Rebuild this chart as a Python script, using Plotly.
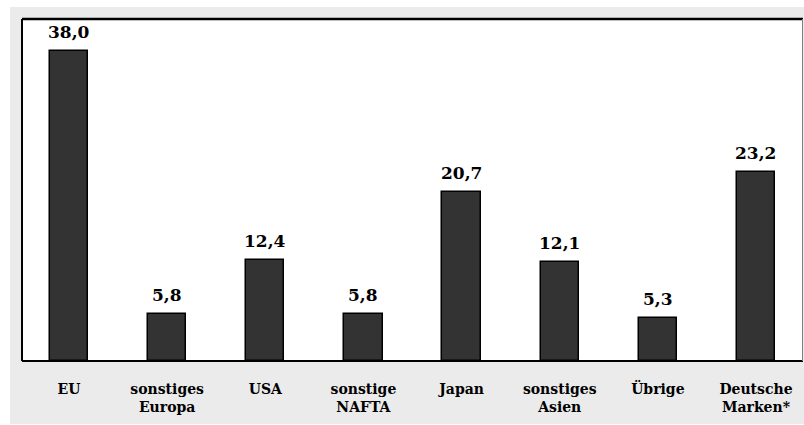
import plotly.graph_objects as go

categories = ["EU", "sonstiges<br>Europa", "USA", "sonstige<br>NAFTA", "Japan",
              "sonstiges<br>Asien", "Übrige", "Deutsche<br>Marken*"]
values = [38.0, 5.8, 12.4, 5.8, 20.7, 12.1, 5.3, 23.2]
value_labels = [f"{v:.1f}".replace(".", ",") for v in values]

W, H = 804, 425
ml, mr, mt, mb = 22, 1, 19, 64
pw, ph = W - ml - mr, H - mt - mb

def px_x(x):
    return (x - ml) / pw

def px_y(y):
    return (H - mb - y) / ph

font_family = "DejaVu Serif"
idx = list(range(len(categories)))

fig = go.Figure(go.Bar(
    x=idx, y=values, width=0.39,
    marker=dict(color="#333333", line=dict(color="#000000", width=1.5)),
))

for i, (v, t) in enumerate(zip(values, value_labels)):
    fig.add_annotation(x=i, y=v, text=t, showarrow=False,
                       yanchor="bottom", yshift=7,
                       font=dict(family=font_family, size=17, color="#000000", weight="bold"))

shapes = [
    # white strips outside the grey frame
    dict(type="rect", xref="paper", yref="paper", x0=px_x(0), x1=px_x(10),
         y0=px_y(H), y1=px_y(0), fillcolor="white", line=dict(width=0), layer="below"),
    dict(type="rect", xref="paper", yref="paper", x0=px_x(0), x1=px_x(W),
         y0=px_y(7), y1=px_y(0), fillcolor="white", line=dict(width=0), layer="below"),
    dict(type="rect", xref="paper", yref="paper", x0=px_x(0), x1=px_x(W),
         y0=px_y(H), y1=px_y(424), fillcolor="white", line=dict(width=0), layer="below"),
    # plot frame
    dict(type="line", xref="paper", yref="paper", x0=0, x1=1, y0=1, y1=1,
         line=dict(color="#000000", width=2.5)),
    dict(type="line", xref="paper", yref="paper", x0=0, x1=0, y0=0, y1=1,
         line=dict(color="#000000", width=2)),
    dict(type="line", xref="paper", yref="paper", x0=0, x1=1, y0=0, y1=0,
         line=dict(color="#000000", width=2)),
    dict(type="line", xref="paper", yref="paper", x0=px_x(802.5), x1=px_x(802.5), y0=0, y1=1,
         line=dict(color="#808080", width=1)),
]

fig.update_layout(
    width=W, height=H,
    margin=dict(l=ml, r=mr, t=mt, b=mb),
    paper_bgcolor="#ebebeb", plot_bgcolor="#ffffff",
    showlegend=False, bargap=0,
    shapes=shapes,
    xaxis=dict(range=[-0.479, 7.479], tickmode="array", tickvals=idx, ticktext=categories,
               showgrid=False, zeroline=False, showline=False,
               ticks="outside", ticklen=15, tickcolor="rgba(0,0,0,0)",
               tickfont=dict(family=font_family, size=14, color="#000000", weight="bold"),
               fixedrange=True),
    yaxis=dict(range=[0, 41.9], showgrid=False, zeroline=False, showline=False,
               showticklabels=False, ticks="", fixedrange=True),
)

fig.write_html("out.html")
